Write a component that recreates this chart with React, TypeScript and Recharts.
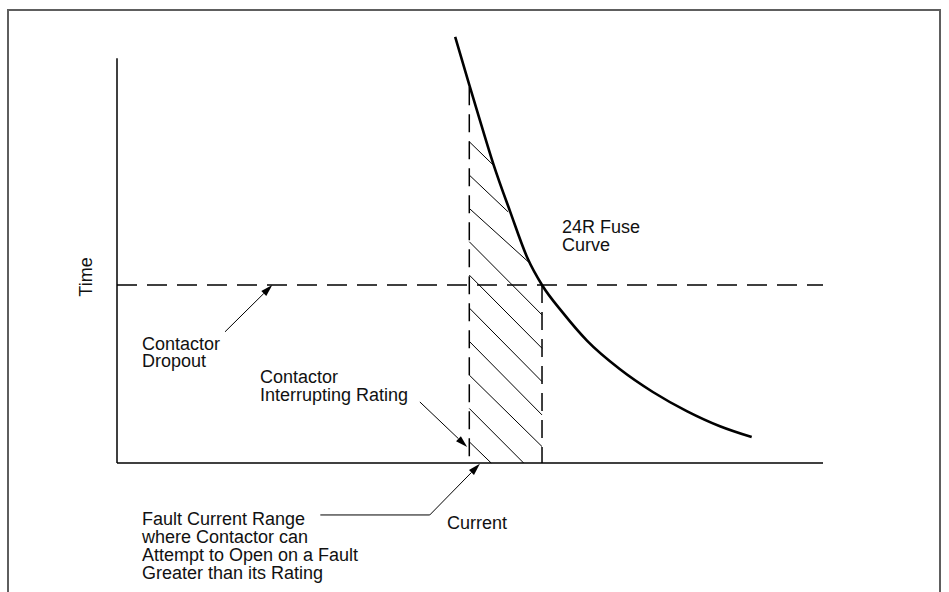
import React from "react";
import { LineChart, Line, XAxis, YAxis, ReferenceLine } from "recharts";

// Schematic time-current diagram, both axes in arbitrary units 0-100
const fuseCurrent = [47.9, 49.9, 51.6, 53.3, 55.7, 58.2, 60.2, 63.2, 66.6, 71.2, 75.9, 80.7, 85.4, 89.9];
const fuseTime = [98.4, 87.3, 78.1, 69.1, 58.0, 47.1, 41.1, 34.6, 28.2, 21.7, 16.4, 12.0, 8.5, 6.0];

const dropoutTime = 41.1;
const interruptCurrent = 49.9;
const interruptTop = 86.8;
const faultLimitCurrent = 60.2;
const timeAxisTop = 93.5;

// hatching of the fault range: start on the interrupting-rating line, end where it hits curve / limit / axis
const hatchStartTime = [74.2, 66.5, 58.8, 51.1, 43.4, 35.8, 28.1, 20.3, 12.6, 4.9];
const hatchEndCurrent = [53.3, 55.4, 58.3, 60.2, 60.2, 60.2, 60.2, 60.2, 57.6, 53.0];
const hatchEndTime = [68.8, 58.0, 46.4, 34.2, 26.5, 18.8, 11.1, 3.8, 0, 0];

// leader lines for the callouts (current, time)
const dropoutLeader = [[15.3, 30.3], [22.0, 41.1]];
const ratingLeader = [[42.9, 14.1], [49.6, 3.7]];
const faultLeader = [[28.8, -12.0], [44.3, -12.0], [51.4, -0.2]];

const data = fuseCurrent.map((c, i) => ({ current: c, time: fuseTime[i] }));

const pt = (p: number[]) => ({ x: p[0], y: p[1] });

const arrowShape = (p: any) => {
  const { x1, y1, x2, y2 } = p;
  const a = Math.atan2(y2 - y1, x2 - x1);
  const L = 12;
  const W = 3.5;
  const bx = x2 - L * Math.cos(a);
  const by = y2 - L * Math.sin(a);
  const pts = `${x2},${y2} ${bx - W * Math.sin(a)},${by + W * Math.cos(a)} ${bx + W * Math.sin(a)},${by - W * Math.cos(a)}`;
  return (
    <g>
      <line x1={x1} y1={y1} x2={bx} y2={by} stroke="#000" strokeWidth={1} />
      <polygon points={pts} fill="#000" />
    </g>
  );
};

const font = { fontFamily: "'Liberation Sans', Arial, sans-serif", fontSize: 18, fill: "#111" };

export default function App() {
  return (
    <div style={{ position: "absolute", left: 0, top: 0, width: 949, height: 592, overflow: "hidden", background: "#fff" }}>
      <div
        style={{
          position: "absolute",
          left: 7,
          top: 9,
          width: 934,
          height: 620,
          border: "2px solid #5e5e5e",
          boxSizing: "border-box",
        }}
      />
      <div style={{ position: "absolute", left: 0, top: 0 }}>
        <LineChart width={949} height={592} data={data} margin={{ top: 30, right: 126, bottom: 129, left: 117 }}>
          <XAxis type="number" dataKey="current" domain={[0, 100]} hide />
          <YAxis type="number" domain={[0, 100]} hide />

          {hatchStartTime.map((t, i) => (
            <ReferenceLine
              key={"h" + i}
              ifOverflow="visible"
              segment={[
                { x: interruptCurrent, y: t },
                { x: hatchEndCurrent[i], y: hatchEndTime[i] },
              ]}
              stroke="#000"
              strokeWidth={1}
            />
          ))}

          <ReferenceLine y={dropoutTime} ifOverflow="visible" stroke="#000" strokeWidth={1.5} strokeDasharray="20 10" />
          <ReferenceLine
            ifOverflow="visible"
            segment={[{ x: interruptCurrent, y: interruptTop }, { x: interruptCurrent, y: 0 }]}
            stroke="#000"
            strokeWidth={1.5}
            strokeDasharray="18 9"
          />
          <ReferenceLine
            ifOverflow="visible"
            segment={[{ x: faultLimitCurrent, y: dropoutTime }, { x: faultLimitCurrent, y: 0 }]}
            stroke="#000"
            strokeWidth={1.5}
            strokeDasharray="18 9"
          />

          <Line type="monotone" dataKey="time" stroke="#000" strokeWidth={2.6} dot={false} isAnimationActive={false} />

          <ReferenceLine y={0} ifOverflow="visible" stroke="#000" strokeWidth={1.5} />
          <ReferenceLine
            ifOverflow="visible"
            segment={[{ x: 0, y: 0 }, { x: 0, y: timeAxisTop }]}
            stroke="#000"
            strokeWidth={1.5}
          />

          <ReferenceLine ifOverflow="visible" segment={[pt(dropoutLeader[0]), pt(dropoutLeader[1])]} shape={arrowShape} />
          <ReferenceLine ifOverflow="visible" segment={[pt(ratingLeader[0]), pt(ratingLeader[1])]} shape={arrowShape} />
          <ReferenceLine
            ifOverflow="visible"
            segment={[pt(faultLeader[0]), pt(faultLeader[1])]}
            stroke="#000"
            strokeWidth={1}
          />
          <ReferenceLine ifOverflow="visible" segment={[pt(faultLeader[1]), pt(faultLeader[2])]} shape={arrowShape} />

          <g style={font}>
            <text x={91.5} y={277} textAnchor="middle" transform="rotate(-90, 91.5, 277)" {...font}>
              Time
            </text>
            <text x={142} {...font}>
              <tspan x={142} y={350}>Contactor</tspan>
              <tspan x={142} y={367}>Dropout</tspan>
            </text>
            <text x={260} {...font}>
              <tspan x={260} y={382.5}>Contactor</tspan>
              <tspan x={260} y={400.5}>Interrupting Rating</tspan>
            </text>
            <text x={562} {...font}>
              <tspan x={562} y={232.5}>24R Fuse</tspan>
              <tspan x={562} y={250.5}>Curve</tspan>
            </text>
            <text x={142} {...font}>
              <tspan x={142} y={525}>Fault Current Range</tspan>
              <tspan x={142} y={543}>where Contactor can</tspan>
              <tspan x={142} y={561}>Attempt to Open on a Fault</tspan>
              <tspan x={142} y={579}>Greater than its Rating</tspan>
            </text>
            <text x={447} y={529} {...font}>
              Current
            </text>
          </g>
        </LineChart>
      </div>
    </div>
  );
}
